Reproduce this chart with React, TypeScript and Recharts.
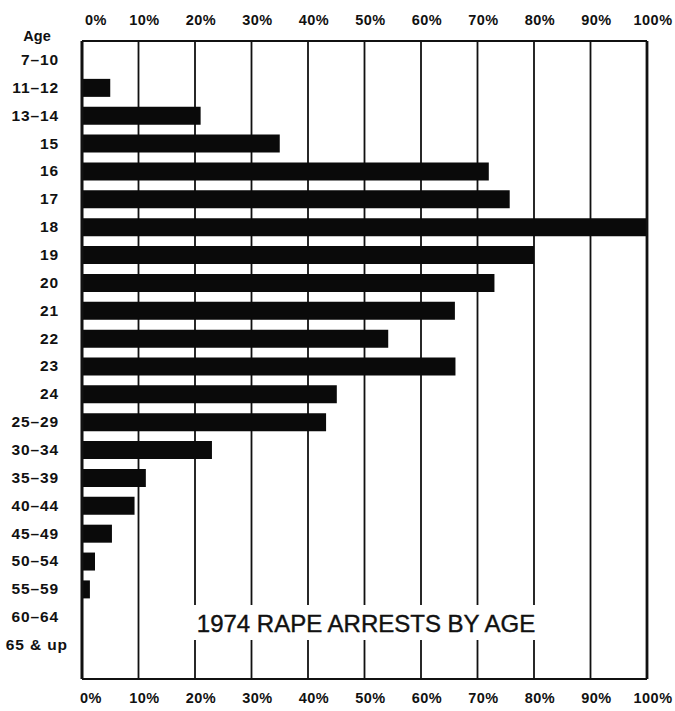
import React from 'react';
import { BarChart, Bar, XAxis, YAxis, CartesianGrid, ReferenceLine, Customized } from 'recharts';

const ages = ['7–10', '11–12', '13–14', '15', '16', '17', '18', '19', '20', '21', '22', '23', '24', '25–29', '30–34', '35–39', '40–44', '45–49', '50–54', '55–59', '60–64', '65 & up'];
const arrestPct = [0, 5, 21, 35, 72, 75.7, 100, 80, 73, 66, 54.2, 66.1, 45.1, 43.2, 23, 11.3, 9.3, 5.3, 2.3, 1.4, 0, 0];
const pctTicks = [0, 10, 20, 30, 40, 50, 60, 70, 80, 90, 100];
const title = '1974 RAPE ARRESTS BY AGE';

const data = ages.map((a, i) => ({ age: a, pct: arrestPct[i] }));

const FONT = '"Liberation Sans", Arial, Helvetica, sans-serif';

const XTick = (side: 'top' | 'bottom') => (props: any) => {
  const { x, payload } = props;
  const v = payload.value;
  const dx = v === 0 ? (side === 'top' ? 14 : 9) : 6;
  const y = side === 'top' ? 25 : 703;
  return (
    <text x={x + dx} y={y} textAnchor="middle" fontFamily={FONT} fontWeight="bold" fontSize={14.5} letterSpacing={0.5} fill="#111">
      {v}%
    </text>
  );
};

const YTick = (props: any) => {
  const { y, payload } = props;
  const endX = payload.value === '65 & up' ? 68 : 59;
  return (
    <text x={endX} y={y + 5} textAnchor="end" fontFamily={FONT} fontWeight="bold" fontSize={15.5} letterSpacing={0.9} fill="#111">
      {payload.value}
    </text>
  );
};

const TitleBox = () => (
  <g>
    <rect x={184} y={605} width={366} height={35} fill="#fff" />
    <text x={366} y={632} textAnchor="middle" fontFamily={FONT} fontSize={24} fill="#111" stroke="#111" strokeWidth={0.4}>
      {title}
    </text>
    <text x={37} y={41} textAnchor="middle" fontFamily={FONT} fontWeight="bold" fontSize={14.5} fill="#111">
      Age
    </text>
  </g>
);

export default function App() {
  return (
    <div style={{ position: 'absolute', left: 0, top: 0, width: 675, height: 711, background: '#fff' }}>
      <BarChart
        width={675}
        height={711}
        data={data}
        layout="vertical"
        margin={{ top: 0, right: 28, bottom: 0, left: 0 }}
        barSize={18}
      >
        <CartesianGrid xAxisId="bottom" horizontal={false} stroke="#111" strokeWidth={1.8} />
        <XAxis
          xAxisId="top"
          orientation="top"
          type="number"
          domain={[0, 100]}
          allowDataOverflow={true}
          ticks={pctTicks}
          height={41}
          tickLine={false}
          axisLine={{ stroke: '#111', strokeWidth: 2.2 }}
          tick={XTick('top')}
          interval={0}
        />
        <XAxis
          xAxisId="bottom"
          orientation="bottom"
          type="number"
          domain={[0, 100]}
          ticks={pctTicks}
          height={32}
          tickLine={false}
          axisLine={{ stroke: '#111', strokeWidth: 2.2 }}
          tick={XTick('bottom')}
          interval={0}
        />
        <YAxis
          type="category"
          dataKey="age"
          width={82}
          tickLine={false}
          axisLine={{ stroke: '#111', strokeWidth: 2.6 }}
          tick={YTick}
          interval={0}
          padding={{ top: 5, bottom: 20 }}
        />
        <ReferenceLine xAxisId="top" x={0} stroke="#111" strokeWidth={2.6} ifOverflow="extendDomain" />
        <ReferenceLine xAxisId="top" x={100} stroke="#111" strokeWidth={2.8} ifOverflow="extendDomain" />
        <Customized component={TitleBox} />
        <Bar xAxisId="bottom" dataKey="pct" fill="#0a0a0a" isAnimationActive={false} />
      </BarChart>
    </div>
  );
}
